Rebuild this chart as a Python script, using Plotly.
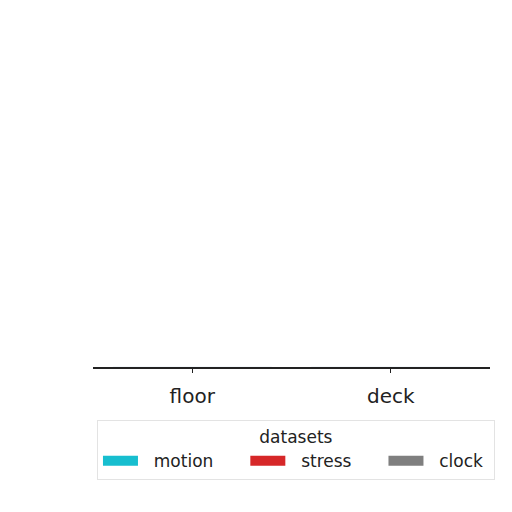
import plotly.graph_objects as go

# categories and series (bars sit at zero, nothing rises above the axis)
categories = ["floor", "deck"]
series_names = ["motion", "stress", "clock"]
motion = [0, 0]
stress = [0, 0]
clock = [0, 0]
colors = ["#17becf", "#d62728", "#7f7f7f"]

# extra space around legend labels, so entries spread like the reference
pad_after = [5, 5, 1]

fig = go.Figure()

for name, vals, col, pad in zip(series_names, [motion, stress, clock], colors, pad_after):
    fig.add_trace(go.Bar(
        x=categories, y=vals, name=name,
        marker_color=col, showlegend=False
    ))
    # wide rectangular legend swatch
    fig.add_trace(go.Scatter(
        x=[None], y=[None], name="\u00a0\u00a0" + name + "\u00a0" * pad,
        mode="lines", line=dict(color=col, width=12), showlegend=True
    ))

fig.update_layout(
    width=512, height=512,
    margin=dict(l=85, r=30, t=10, b=153),
    paper_bgcolor="white", plot_bgcolor="white",
    barmode="group",
    font=dict(family="DejaVu Sans", color="#222"),
    xaxis=dict(
        showline=True, linecolor="#222", linewidth=1.5,
        ticks="outside", ticklen=4, tickcolor="#222",
        tickfont=dict(size=20, color="#222"), ticklabelstandoff=6,
        showgrid=False, zeroline=False, range=[-0.5, 1.5]
    ),
    yaxis=dict(
        visible=False, range=[0, 1]
    ),
    legend=dict(
        orientation="h",
        x=0.01, xanchor="left", y=-0.152, yanchor="top",
        title=dict(text="datasets", side="top center", font=dict(size=17)),
        font=dict(size=17, color="#222"),
        bordercolor="#e3e3e3", borderwidth=1, bgcolor="white",
        itemwidth=35
    )
)

fig.write_html("out.html")
